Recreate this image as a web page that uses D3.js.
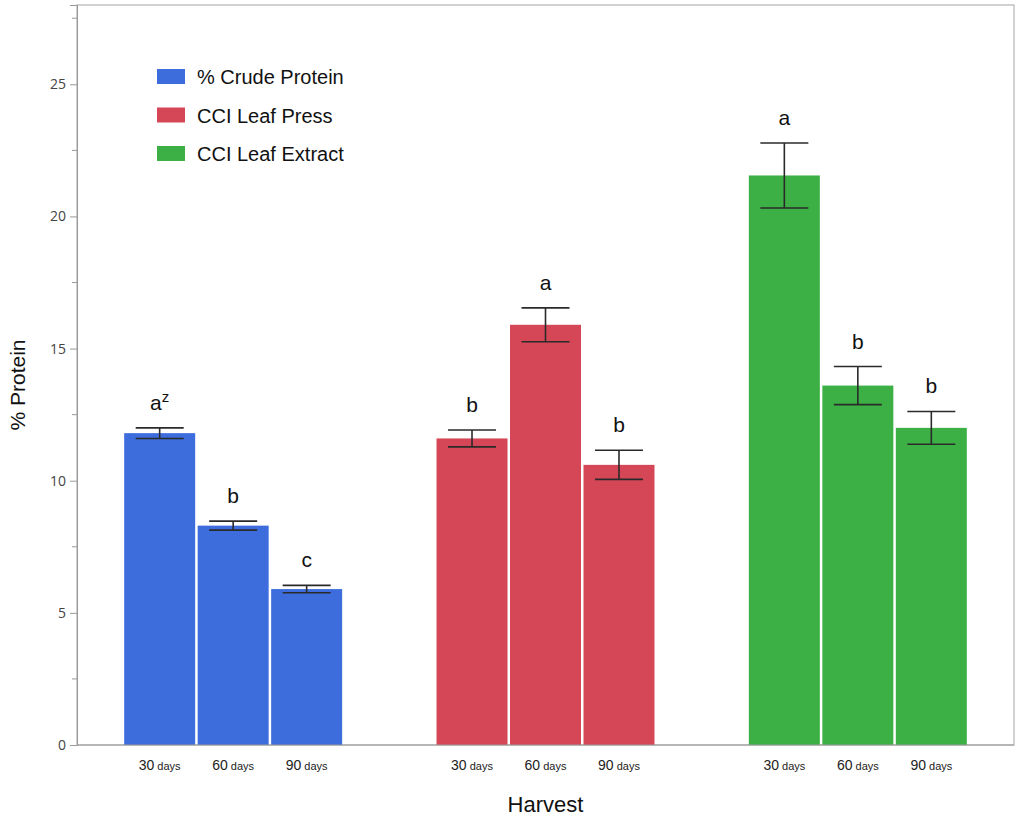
<!DOCTYPE html>
<html>
<head>
<meta charset="utf-8">
<script src="https://cdn.jsdelivr.net/npm/d3@7"></script>
<style>
  html, body { margin: 0; padding: 0; background: #fff; }
  svg { display: block; font-family: "Liberation Sans", Arial, sans-serif; }
</style>
</head>
<body>
<svg id="chart" width="1018" height="823"></svg>
<script>
// Treatment groups (one per legend entry) and harvest times within each group
const groups = ["% Crude Protein", "CCI Leaf Press", "CCI Leaf Extract"];
const harvests = ["30", "60", "90"];

// Mean % protein per harvest, one array per group
const crudeProtein = [11.8, 8.3, 5.9];
const leafPress = [11.6, 15.9, 10.6];
const leafExtract = [21.55, 13.6, 12.0];

// Error half-widths per harvest
const crudeProteinErr = [0.2, 0.17, 0.14];
const leafPressErr = [0.32, 0.64, 0.55];
const leafExtractErr = [1.23, 0.72, 0.62];

// Mean separation letters
const crudeProteinLetters = ["a", "b", "c"];
const leafPressLetters = ["b", "a", "b"];
const leafExtractLetters = ["a", "b", "b"];

const yTicks = [0, 5, 10, 15, 20, 25];
const colors = ["#3d6ddd", "#d54756", "#3cb044"];

const seriesMeans = [crudeProtein, leafPress, leafExtract];
const seriesErr = [crudeProteinErr, leafPressErr, leafExtractErr];
const seriesLetters = [crudeProteinLetters, leafPressLetters, leafExtractLetters];

const rows = [];
groups.forEach((g, gi) => {
  harvests.forEach((h, hi) => {
    rows.push({
      group: g, gi, harvest: h,
      value: seriesMeans[gi][hi],
      err: seriesErr[gi][hi],
      letter: seriesLetters[gi][hi]
    });
  });
});

const svg = d3.select("#chart");
const plot = { left: 77, right: 1014, top: 5, bottom: 745 };

const x0 = d3.scaleBand().domain(groups).range([plot.left, plot.right]).padding(0);
const x1 = d3.scaleBand().domain(harvests).range([0, x0.bandwidth()])
  .paddingInner(0.034).paddingOuter(0.642);
const y = d3.scaleLinear().domain([0, 28]).range([plot.bottom, plot.top]);

// Plot frame
svg.append("rect")
  .attr("x", plot.left).attr("y", plot.top)
  .attr("width", plot.right - plot.left).attr("height", plot.bottom - plot.top)
  .attr("fill", "none").attr("stroke", "#b4b4b4").attr("stroke-width", 1.2);

// Y axis with major and minor ticks
const yAxis = d3.axisLeft(y).tickValues(yTicks).tickSize(7).tickPadding(4).tickFormat(d3.format("d"));
const gy = svg.append("g").attr("transform", `translate(${plot.left},0)`).call(yAxis);
gy.select(".domain").attr("stroke", "#999");
gy.selectAll(".tick line").attr("stroke", "#999");
gy.selectAll(".tick text").attr("fill", "#444").style("font-size", "14px")
  .style("font-family", "'Open Sans', 'Liberation Sans', sans-serif");
const minor = d3.range(2.5, 28, 5);
svg.append("g").selectAll("line").data(minor).join("line")
  .attr("x1", plot.left - 5).attr("x2", plot.left)
  .attr("y1", d => y(d)).attr("y2", d => y(d))
  .attr("stroke", "#999");

// Bars
const barG = svg.append("g");
barG.selectAll("rect").data(rows).join("rect")
  .attr("x", d => x0(d.group) + x1(d.harvest))
  .attr("y", d => y(d.value))
  .attr("width", x1.bandwidth())
  .attr("height", d => y(0) - y(d.value))
  .attr("fill", d => colors[d.gi]);

// Bottom axis line over the bars
svg.append("line")
  .attr("x1", plot.left).attr("x2", plot.right)
  .attr("y1", plot.bottom).attr("y2", plot.bottom)
  .attr("stroke", "#999").attr("stroke-width", 1.2);

// Error bars
const capHalf = 24;
const errG = svg.append("g").attr("stroke", "#2a2a2a").attr("stroke-width", 1.6);
rows.forEach(d => {
  const cx = x0(d.group) + x1(d.harvest) + x1.bandwidth() / 2;
  const yt = y(d.value + d.err), yb = y(d.value - d.err);
  errG.append("line").attr("x1", cx).attr("x2", cx).attr("y1", yt).attr("y2", yb);
  errG.append("line").attr("x1", cx - capHalf).attr("x2", cx + capHalf).attr("y1", yt).attr("y2", yt);
  errG.append("line").attr("x1", cx - capHalf).attr("x2", cx + capHalf).attr("y1", yb).attr("y2", yb);
});

// Letters above error bars
const letterG = svg.append("g");
rows.forEach((d, i) => {
  const cx = x0(d.group) + x1(d.harvest) + x1.bandwidth() / 2;
  const t = letterG.append("text")
    .attr("x", cx).attr("y", y(d.value + d.err) - 18)
    .attr("text-anchor", "middle")
    .attr("fill", "#111").style("font-size", "21px");
  t.append("tspan").text(d.letter);
  if (i === 0) {
    t.append("tspan").attr("dy", -8).style("font-size", "15px").text("z");
  }
});

// Harvest tick labels: number larger, "days" smaller
const tickG = svg.append("g");
rows.forEach(d => {
  const cx = x0(d.group) + x1(d.harvest) + x1.bandwidth() / 2;
  const t = tickG.append("text")
    .attr("x", cx).attr("y", 770)
    .attr("text-anchor", "middle").attr("fill", "#222");
  t.append("tspan").style("font-size", "14px").text(d.harvest);
  t.append("tspan").style("font-size", "11px").text(" days");
});

// Axis titles
svg.append("text")
  .attr("x", x0(groups[1]) + x0.bandwidth() / 2).attr("y", 812)
  .attr("text-anchor", "middle").attr("fill", "#111")
  .style("font-size", "22px").text("Harvest");
svg.append("text")
  .attr("transform", "translate(25,385) rotate(-90)")
  .attr("text-anchor", "middle").attr("fill", "#111")
  .style("font-size", "21px").text("% Protein");

// Legend
const legend = svg.append("g").attr("transform", "translate(157,69)");
groups.forEach((g, i) => {
  const row = legend.append("g").attr("transform", `translate(0,${i * 38.5})`);
  row.append("rect").attr("width", 28).attr("height", 15).attr("fill", colors[i]);
  row.append("text").attr("x", 40).attr("y", 15)
    .attr("fill", "#111").style("font-size", "20px").text(g);
});
</script>
</body>
</html>
